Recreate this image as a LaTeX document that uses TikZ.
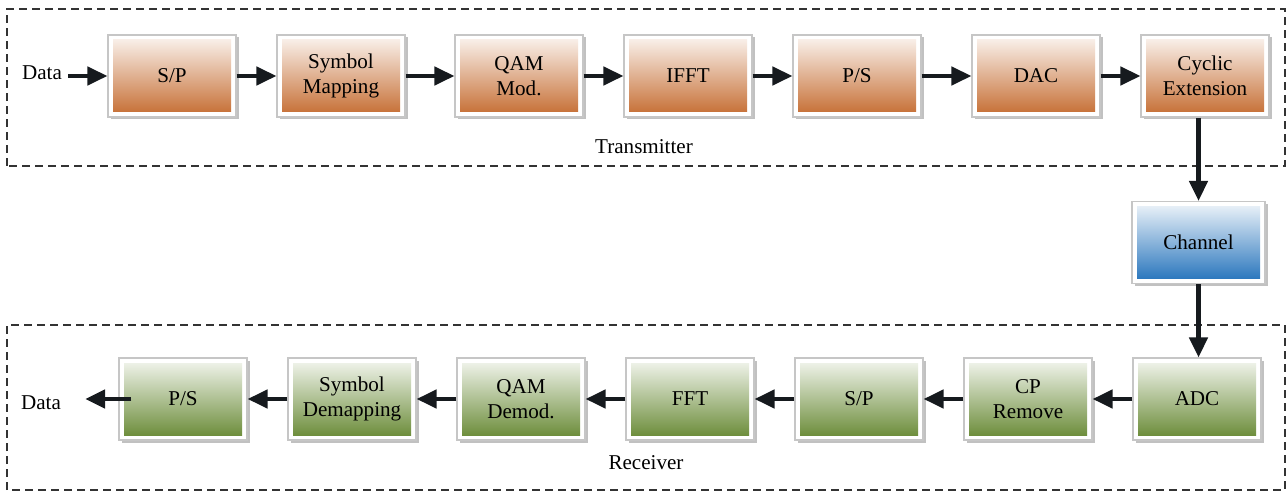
\documentclass[tikz,border=0pt]{standalone}
\usepackage{fontspec}
\setmainfont{Liberation Serif}
\usetikzlibrary{arrows.meta,shadows}

\definecolor{txorange}{RGB}{196,106,46}
\definecolor{rxgreen}{RGB}{102,136,50}
\definecolor{chblue}{RGB}{32,112,186}
\definecolor{arrowblack}{RGB}{22,26,30}

\tikzset{
  block/.style={shape=rectangle, draw=gray!45, fill=white, line width=0.6pt,
    minimum width=2.56cm, minimum height=1.64cm, align=center, inner sep=0pt,
    drop shadow={shadow xshift=0.05cm, shadow yshift=-0.05cm, fill=gray!70, opacity=0.7},
    path picture={\shade[top color=#1!6, bottom color=#1]
      ([shift={(0.1cm,-0.1cm)}]path picture bounding box.north west) rectangle
      ([shift={(-0.1cm,0.1cm)}]path picture bounding box.south east);}},
  tx/.style={block=txorange},
  rx/.style={block=rxgreen},
  frame/.style={draw=black!80, line width=1.1pt, dash pattern=on 0.16cm off 0.1cm},
}

\begin{document}
\begin{tikzpicture}[flow/.style={->, line width=2.6pt, color=arrowblack},
  >={Triangle[length=0.4cm,width=0.36cm]}, node distance=3.38cm,
  font=\fontsize{12}{14.5}\selectfont]
\useasboundingbox (0,0) rectangle (25.72,9.84);

% transmitter and receiver frames
\draw[frame] (0.14,6.52) rectangle (25.7,9.66);
\draw[frame] (0.14,0.04) rectangle (25.7,3.34);
\node[] (TxLabel) at (12.88,6.9) {Transmitter};
\node[] (RxLabel) at (12.92,0.58) {Receiver};

% transmitter
\node[] (DataIn) at (0.84,8.38) {Data};
\node[tx] (SP) at (3.44,8.32) {S/P};
\node[tx] (SymMap) [right of=SP] {Symbol\\Mapping};
\node[tx] (QAMMod) [right of=SymMap, xshift=0.18cm] {QAM\\Mod.};
\node[tx] (IFFT) [right of=QAMMod] {IFFT};
\node[tx] (PS) [right of=IFFT] {P/S};
\node[tx] (DAC) [right of=PS, xshift=0.2cm] {DAC};
\node[tx] (Cyclic) [right of=DAC] {Cyclic\\Extension};

% channel
\node[block=chblue, minimum width=2.66cm] (Channel) at (23.97,4.99) {Channel};

% receiver
\node[rx] (ADC) at (23.94,1.86) {ADC};
\node[rx] (CPRem) [left of=ADC] {CP\\Remove};
\node[rx] (SPr) [left of=CPRem] {S/P};
\node[rx] (FFT) [left of=SPr] {FFT};
\node[rx] (QAMDemod) [left of=FFT] {QAM\\Demod.};
\node[rx] (SymDemap) [left of=QAMDemod] {Symbol\\Demapping};
\node[rx] (PSr) [left of=SymDemap] {P/S};
\node[] (DataOut) at (0.82,1.78) {Data};

\path[flow] (SP.west -| DataIn.east) edge (SP.west)
	(SP) edge (SymMap)
	(SymMap) edge (QAMMod)
	(QAMMod) edge (IFFT)
	(IFFT) edge (PS)
	(PS) edge (DAC)
	(DAC) edge (Cyclic)
	(Cyclic.south -| Channel.north) edge (Channel.north)
	(Channel.south) edge (Channel.south |- ADC.north)
	(ADC) edge (CPRem)
	(CPRem) edge (SPr)
	(SPr) edge (FFT)
	(FFT) edge (QAMDemod)
	(QAMDemod) edge (SymDemap)
	(SymDemap) edge (PSr)
	([xshift=0.26cm]PSr.west) edge[shorten >=0.36cm] (PSr.west -| DataOut.east);

\end{tikzpicture}
\end{document}
